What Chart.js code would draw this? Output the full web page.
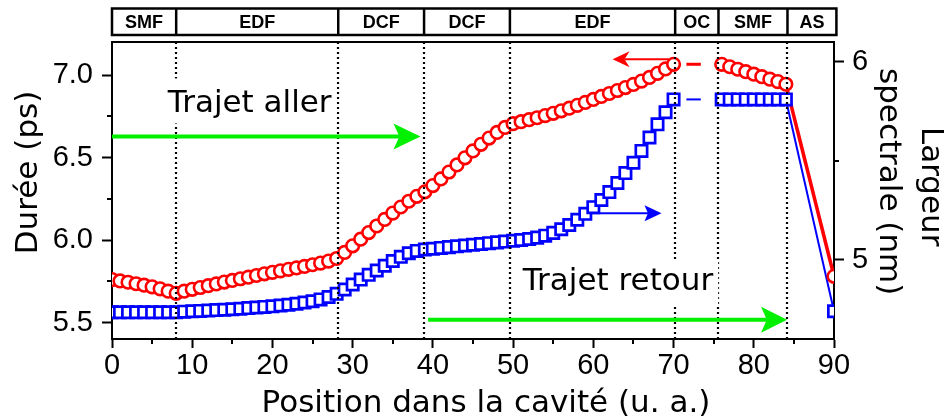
<!DOCTYPE html>
<html>
<head>
<meta charset="utf-8">
<script src="https://cdn.jsdelivr.net/npm/chart.js@4.4.3/dist/chart.umd.min.js"></script>
<style>
  html, body { margin: 0; padding: 0; background: #fff; }
  canvas { display: block; }
</style>
</head>
<body>
<canvas id="c" width="946" height="420"></canvas>
<script>
// Position dans la cavité (u. a.)
const positions = [
  0, 1, 2, 3, 4, 5, 6, 7, 8, 9, 10, 11, 12, 13, 14, 15, 16, 17, 18, 19,
  20, 21, 22, 23, 24, 25, 26, 27, 28, 29, 30, 31, 32, 33, 34, 35, 36, 37, 38, 39,
  40, 41, 42, 43, 44, 45, 46, 47, 48, 49, 50, 51, 52, 53, 54, 55, 56, 57, 58, 59,
  60, 61, 62, 63, 64, 65, 66, 67, 68, 69, 70,
  76, 77, 78, 79, 80, 81, 82, 83, 84,
  90
];
// Durée (ps), axe gauche
const durationPs = [
  5.760, 5.752, 5.744, 5.735, 5.726, 5.716, 5.704, 5.690, 5.677, 5.690,
  5.701, 5.712, 5.723, 5.734, 5.745, 5.755, 5.765, 5.775, 5.785, 5.795,
  5.804, 5.813, 5.822, 5.831, 5.840, 5.850, 5.860, 5.872, 5.888, 5.925,
  5.965, 6.005, 6.045, 6.085, 6.125, 6.163, 6.200, 6.235, 6.265, 6.292,
  6.330, 6.370, 6.412, 6.455, 6.498, 6.540, 6.580, 6.618, 6.652, 6.682,
  6.705, 6.717, 6.729, 6.741, 6.754, 6.768, 6.783, 6.799, 6.816, 6.834,
  6.852, 6.870, 6.888, 6.906, 6.924, 6.943, 6.963, 6.985, 7.010, 7.037,
  7.065,
  7.065, 7.050, 7.035, 7.020, 7.005, 6.990, 6.975, 6.960, 6.944,
  5.780
];
// Largeur spectrale (nm), axe droit
const widthNm = [
  4.735, 4.735, 4.735, 4.735, 4.735, 4.735, 4.735, 4.735, 4.735, 4.738,
  4.740, 4.742, 4.744, 4.746, 4.748, 4.750, 4.753, 4.756, 4.759, 4.762,
  4.765, 4.769, 4.773, 4.778, 4.784, 4.791, 4.800, 4.812, 4.828, 4.850,
  4.875, 4.900, 4.924, 4.946, 4.970, 4.994, 5.015, 5.033, 5.045, 5.052,
  5.056, 5.060, 5.064, 5.068, 5.072, 5.076, 5.080, 5.084, 5.088, 5.092,
  5.096, 5.100, 5.105, 5.112, 5.122, 5.136, 5.154, 5.176, 5.202, 5.232,
  5.266, 5.302, 5.342, 5.388, 5.438, 5.490, 5.550, 5.618, 5.684, 5.745,
  5.810,
  5.810, 5.810, 5.810, 5.810, 5.810, 5.810, 5.810, 5.810, 5.810,
  4.740
];
// coupleur de sortie : petit trait entre 70 et 76
const ocDashX = [71.6, 73.4];

// bandeau des fibres
const sectionEdges = [0, 8, 28.2, 38.9, 49.6, 70.2, 75.6, 84.2, 90.3];
const sectionLabels = ['SMF', 'EDF', 'DCF', 'DCF', 'EDF', 'OC', 'SMF', 'AS'];

const xTicks = { min: 0, max: 90, step: 10 };
const xMinor = [5, 15, 25, 35, 45, 55, 65, 75, 85];
const yTicks = { min: 5.4, max: 7.2, step: 0.5 };
const yMinor = [5.75, 6.25, 6.75];
const y2Ticks = { min: 4.6, max: 6.1, step: 1 };
const y2Minor = [5.5];

const RED = '#ff0000';
const BLUE = '#0000ff';
const GREEN = '#00f000';
const TXT = "'DejaVu Sans', Verdana, sans-serif";
const NUM = "'Liberation Sans', Arial, sans-serif";

const pts = (xs, ys) => xs.map((x, i) => ({ x, y: ys[i] }));
const last = positions.length - 1;

// flèches et annotations, en coordonnées des axes
const arrows = [
  { x0: 0, x1: 38.45, y: 6.628, axis: 'y', color: GREEN, lw: 4, len: 27, half: 13, notch: 0.22 },
  { x0: 39.4, x1: 84.15, y: 5.516, axis: 'y', color: GREEN, lw: 4, len: 26, half: 13, notch: 0.22 },
  { x0: 69.4, x1: 62.4, y: 7.095, axis: 'y', color: RED, lw: 2, len: 17, half: 8, notch: 0.3 },
  { x0: 59.6, x1: 68.5, y: 5.235, axis: 'y2', color: BLUE, lw: 2, len: 17, half: 8, notch: 0.2 }
];
const notes = [
  { text: 'Trajet aller', x: 6.95, y: 6.773, axis: 'y', boxUp: 34, boxDown: 11 },
  { text: 'Trajet retour', x: 51.2, y: 5.697, axis: 'y', boxUp: 30, boxDown: 17 }
];

function drawArrow(ctx, a, x0, x1, y) {
  const dir = Math.sign(x1 - x0);
  ctx.save();
  ctx.strokeStyle = a.color;
  ctx.fillStyle = a.color;
  ctx.lineWidth = a.lw;
  ctx.beginPath();
  ctx.moveTo(x0, y);
  ctx.lineTo(x1 - dir * a.len * 0.7, y);
  ctx.stroke();
  ctx.beginPath();
  ctx.moveTo(x1, y);
  ctx.lineTo(x1 - dir * a.len, y - a.half);
  ctx.lineTo(x1 - dir * a.len * (1 - a.notch), y);
  ctx.lineTo(x1 - dir * a.len, y + a.half);
  ctx.closePath();
  ctx.fill();
  ctx.restore();
}

const overlay = {
  id: 'overlay',
  afterDatasetsDraw(chart) {
    const { ctx, chartArea: ca, scales } = chart;
    const sx = scales.x;
    ctx.save();

    // cadre supérieur
    ctx.strokeStyle = '#000';
    ctx.lineWidth = 2;
    ctx.beginPath();
    ctx.moveTo(ca.left, ca.top);
    ctx.lineTo(ca.right + 1, ca.top);
    ctx.stroke();

    // séparations pointillées
    ctx.lineWidth = 2.2;
    ctx.setLineDash([2, 3]);
    sectionEdges.slice(1, -1).forEach((v) => {
      const px = Math.round(sx.getPixelForValue(v));
      ctx.beginPath();
      ctx.moveTo(px, ca.top);
      ctx.lineTo(px, ca.bottom);
      ctx.stroke();
    });
    ctx.setLineDash([]);

    // petites graduations
    ctx.lineWidth = 2;
    xMinor.forEach((v) => {
      const px = Math.round(sx.getPixelForValue(v));
      ctx.beginPath(); ctx.moveTo(px, ca.bottom); ctx.lineTo(px, ca.bottom + 5); ctx.stroke();
    });
    yMinor.forEach((v) => {
      const py = Math.round(scales.y.getPixelForValue(v));
      ctx.beginPath(); ctx.moveTo(ca.left, py); ctx.lineTo(ca.left - 5, py); ctx.stroke();
    });
    y2Minor.forEach((v) => {
      const py = Math.round(scales.y2.getPixelForValue(v));
      ctx.beginPath(); ctx.moveTo(ca.right, py); ctx.lineTo(ca.right + 5, py); ctx.stroke();
    });

    // textes dans le graphe
    ctx.font = `31px ${TXT}`;
    ctx.textAlign = 'left';
    ctx.textBaseline = 'alphabetic';
    notes.forEach((n) => {
      const px = sx.getPixelForValue(n.x);
      const py = scales[n.axis].getPixelForValue(n.y);
      const w = ctx.measureText(n.text).width;
      ctx.fillStyle = '#fff';
      ctx.fillRect(px - 5, py - n.boxUp, w + 10, n.boxUp + n.boxDown);
      ctx.fillStyle = '#000';
      ctx.fillText(n.text, px, py);
    });

    // flèches
    arrows.forEach((a) => {
      const y = scales[a.axis].getPixelForValue(a.y);
      drawArrow(ctx, a, sx.getPixelForValue(a.x0), sx.getPixelForValue(a.x1), y);
    });

    // bandeau des sections
    const top = 8.5, bot = 35;
    const bx0 = sx.getPixelForValue(sectionEdges[0]);
    const bx1 = sx.getPixelForValue(sectionEdges[sectionEdges.length - 1]);
    ctx.fillStyle = '#fff';
    ctx.fillRect(bx0, top, bx1 - bx0, bot - top);
    ctx.strokeStyle = '#000';
    ctx.lineWidth = 2.5;
    ctx.strokeRect(bx0, top, bx1 - bx0, bot - top);
    ctx.font = `bold 18px ${NUM}`;
    ctx.textAlign = 'center';
    ctx.textBaseline = 'middle';
    ctx.fillStyle = '#000';
    sectionLabels.forEach((lab, i) => {
      const a = sx.getPixelForValue(sectionEdges[i]);
      const b = sx.getPixelForValue(sectionEdges[i + 1]);
      if (i > 0) {
        ctx.beginPath(); ctx.moveTo(a, top); ctx.lineTo(a, bot); ctx.stroke();
      }
      ctx.fillText(lab, (a + b) / 2, (top + bot) / 2 + 1);
    });

    // titres des axes
    ctx.font = `31px ${TXT}`;
    ctx.textBaseline = 'alphabetic';
    ctx.textAlign = 'center';
    ctx.fillText('Position dans la cavité (u. a.)', 486, 412);
    ctx.save();
    ctx.translate(36.5, 172.5);
    ctx.rotate(-Math.PI / 2);
    ctx.fillText('Durée (ps)', 0, 0);
    ctx.restore();
    ctx.save();
    ctx.translate(922, 186.7);
    ctx.rotate(Math.PI / 2);
    ctx.fillText('Largeur', 0, 0);
    ctx.restore();
    ctx.save();
    ctx.translate(880, 181.7);
    ctx.rotate(Math.PI / 2);
    ctx.fillText('spectrale (nm)', 0, 0);
    ctx.restore();

    ctx.restore();
  }
};

const tickFont = { family: NUM, size: 29 };
const axisCommon = {
  grid: { drawOnChartArea: false, drawTicks: true, tickLength: 10, tickWidth: 2, tickColor: '#000' },
  border: { display: true, color: '#000', width: 2 }
};

new Chart(document.getElementById('c'), {
  type: 'line',
  data: {
    datasets: [
      {
        label: 'Durée',
        data: pts(positions, durationPs),
        yAxisID: 'y',
        showLine: false,
        pointStyle: 'circle',
        pointRadius: 6.3,
        pointBorderWidth: 2.6,
        pointBorderColor: RED,
        pointBackgroundColor: '#fff',
        clip: 0,
        order: 1
      },
      {
        label: 'Largeur',
        data: pts(positions, widthNm),
        yAxisID: 'y2',
        showLine: false,
        pointStyle: 'rect',
        pointRadius: 8,
        pointBorderWidth: 2.7,
        pointBorderColor: BLUE,
        pointBackgroundColor: '#fff',
        clip: 0,
        order: 2
      },
      {
        data: pts(positions.slice(last - 1), durationPs.slice(last - 1)),
        yAxisID: 'y',
        borderColor: RED,
        borderWidth: 3.5,
        pointRadius: 0,
        order: 3
      },
      {
        data: pts(positions.slice(last - 1), widthNm.slice(last - 1)),
        yAxisID: 'y2',
        borderColor: BLUE,
        borderWidth: 2,
        pointRadius: 0,
        order: 4
      },
      {
        data: pts(ocDashX, [durationPs[70], durationPs[70]]),
        yAxisID: 'y',
        borderColor: RED,
        borderWidth: 3,
        pointRadius: 0,
        order: 5
      },
      {
        data: pts(ocDashX, [widthNm[70], widthNm[70]]),
        yAxisID: 'y2',
        borderColor: BLUE,
        borderWidth: 2,
        pointRadius: 0,
        order: 6
      }
    ]
  },
  options: {
    responsive: false,
    animation: false,
    events: [],
    layout: { padding: { top: 42, left: 0, right: 0, bottom: 0 } },
    plugins: { legend: { display: false }, tooltip: { enabled: false } },
    scales: {
      x: {
        ...axisCommon,
        type: 'linear',
        position: 'bottom',
        min: xTicks.min,
        max: xTicks.max,
        grid: { ...axisCommon.grid, tickLength: 9 },
        ticks: { stepSize: xTicks.step, font: tickFont, color: '#000', padding: 1, maxRotation: 0 },
        afterFit: (s) => { s.height = 81; }
      },
      y: {
        ...axisCommon,
        position: 'left',
        min: yTicks.min,
        max: yTicks.max,
        ticks: {
          stepSize: yTicks.step, includeBounds: false, font: tickFont, color: '#000', padding: 9,
          callback: (v) => v.toFixed(1)
        },
        afterFit: (s) => { s.width = 112; }
      },
      y2: {
        ...axisCommon,
        position: 'right',
        min: y2Ticks.min,
        max: y2Ticks.max,
        ticks: { stepSize: y2Ticks.step, includeBounds: false, font: tickFont, color: '#000', padding: 8 },
        afterFit: (s) => { s.width = 112; }
      }
    }
  },
  plugins: [overlay]
});
</script>
</body>
</html>
